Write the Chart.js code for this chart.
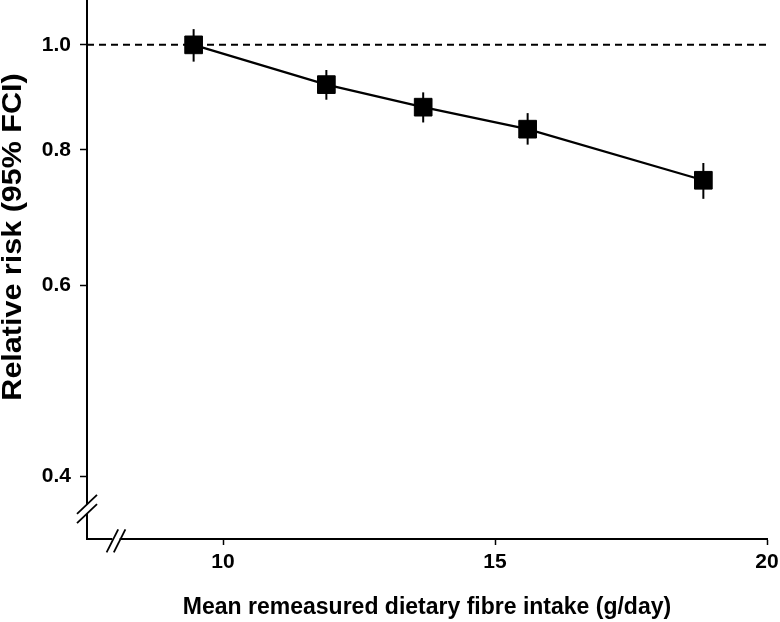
<!DOCTYPE html>
<html><head><meta charset="utf-8">
<script src="https://cdn.jsdelivr.net/npm/chart.js@4.4.0/dist/chart.umd.min.js"></script>
<style>html,body{margin:0;padding:0;background:#fff;} canvas{display:block;}</style>
</head><body>
<canvas id="c" width="780" height="622"></canvas>
<script>
const fibreIntake = [9.46, 11.90, 13.68, 15.60, 18.83];
const relativeRisk = [1.00, 0.919, 0.876, 0.836, 0.750];
const ciLower = [0.965, 0.890, 0.848, 0.809, 0.721];
const ciUpper = [1.034, 0.948, 0.904, 0.865, 0.778];
const referenceX = [7.5, 20];
const referenceRR = [1.0, 1.0];
const xTickValues = [10, 15, 20];
const yTickValues = [0.4, 0.6, 0.8, 1.0];
const xTitle = 'Mean remeasured dietary fibre intake (g/day)';
const yTitle = 'Relative risk (95% FCI)';
const FONT = "'Liberation Sans', Arial, Helvetica, sans-serif";

const errorBarPlugin = {
  id: 'errorBars',
  beforeDatasetsDraw(chart) {
    const {ctx, scales: {x, y}} = chart;
    ctx.save();
    ctx.strokeStyle = '#000';
    ctx.lineWidth = 2;
    fibreIntake.forEach((v, i) => {
      const px = x.getPixelForValue(v);
      ctx.beginPath();
      ctx.moveTo(px, y.getPixelForValue(ciLower[i]));
      ctx.lineTo(px, y.getPixelForValue(ciUpper[i]));
      ctx.stroke();
    });
    ctx.restore();
  }
};

const breakPlugin = {
  id: 'axisBreaks',
  afterDraw(chart) {
    const {ctx, chartArea: a} = chart;
    ctx.save();
    // y-axis break
    const yx = a.left, yc = a.bottom - 30;
    ctx.fillStyle = '#fff';
    ctx.fillRect(yx - 3, yc - 4.7, 6, 9.4);
    ctx.strokeStyle = '#000';
    ctx.lineWidth = 1.8;
    [-4.7, 4.7].forEach(d => {
      ctx.beginPath();
      ctx.moveTo(yx - 10, yc + d + 9.5);
      ctx.lineTo(yx + 10, yc + d - 9.5);
      ctx.stroke();
    });
    // x-axis break
    const xc = a.left + 29, xy = a.bottom;
    ctx.fillStyle = '#fff';
    ctx.fillRect(xc - 3.6, xy - 3, 7.2, 6);
    [-3.6, 3.6].forEach(d => {
      ctx.beginPath();
      ctx.moveTo(xc + d - 5.8, xy + 1.8 + 11.5);
      ctx.lineTo(xc + d + 5.8, xy + 1.8 - 11.5);
      ctx.stroke();
    });
    ctx.restore();
  }
};

const yTitlePlugin = {
  id: 'yTitle',
  afterDraw(chart) {
    const {ctx, chartArea: a} = chart;
    ctx.save();
    ctx.fillStyle = '#000';
    ctx.font = 'bold 27px ' + FONT;
    ctx.textAlign = 'center';
    ctx.textBaseline = 'alphabetic';
    ctx.translate(20.5, a.top + 237);
    ctx.rotate(-Math.PI / 2);
    ctx.scale(1.13, 1);
    ctx.fillText(yTitle, 0, 0);
    ctx.restore();
  }
};

new Chart(document.getElementById('c').getContext('2d'), {
  type: 'scatter',
  data: {
    datasets: [
      {
        label: 'Reference',
        data: referenceX.map((v, i) => ({x: v, y: referenceRR[i]})),
        showLine: true,
        borderColor: '#000',
        borderWidth: 2,
        borderDash: [7, 5],
        pointRadius: 0,
        order: 2
      },
      {
        label: 'Relative risk',
        data: fibreIntake.map((v, i) => ({x: v, y: relativeRisk[i]})),
        showLine: true,
        borderColor: '#000',
        borderWidth: 2.2,
        pointStyle: 'rect',
        pointRadius: 12.5,
        pointBackgroundColor: '#000',
        pointBorderColor: '#000',
        pointBorderWidth: 1,
        order: 1
      }
    ]
  },
  options: {
    responsive: false,
    animation: false,
    devicePixelRatio: 1,
    layout: {autoPadding: false, padding: {left: 0, right: 13, top: 0, bottom: 0}},
    plugins: {legend: {display: false}, tooltip: {enabled: false}},
    scales: {
      x: {
        type: 'linear',
        min: 7.5,
        max: 20,
        afterBuildTicks: s => { s.ticks = xTickValues.map(v => ({value: v})); },
        afterFit: s => { s.height = 83; s.paddingLeft = 0; s.paddingRight = 0; },
        grid: {drawOnChartArea: false, drawTicks: true, tickLength: 6, tickWidth: 1.5, tickColor: '#000'},
        border: {display: true, color: '#000', width: 2},
        ticks: {color: '#000', font: {family: FONT, size: 21, weight: 'bold'}, padding: 5, maxRotation: 0, autoSkip: false},
        title: {display: true, text: xTitle, color: '#000', font: {family: FONT, size: 23, weight: 'bold', lineHeight: 1.2}, padding: {top: 0, bottom: 1}}
      },
      y: {
        type: 'logarithmic',
        min: 0.351,
        max: 1.10,
        afterBuildTicks: s => { s.ticks = yTickValues.map(v => ({value: v})); },
        afterFit: s => { s.width = 87; s.paddingTop = 0; s.paddingBottom = 0; },
        grid: {drawOnChartArea: false, drawTicks: true, tickLength: 7, tickWidth: 1.5, tickColor: '#000'},
        border: {display: true, color: '#000', width: 2},
        ticks: {color: '#000', font: {family: FONT, size: 21, weight: 'bold'}, padding: 9, autoSkip: false,
          callback: v => Number(v).toFixed(1)}
      }
    }
  },
  plugins: [errorBarPlugin, breakPlugin, yTitlePlugin]
});
</script>
</body></html>
